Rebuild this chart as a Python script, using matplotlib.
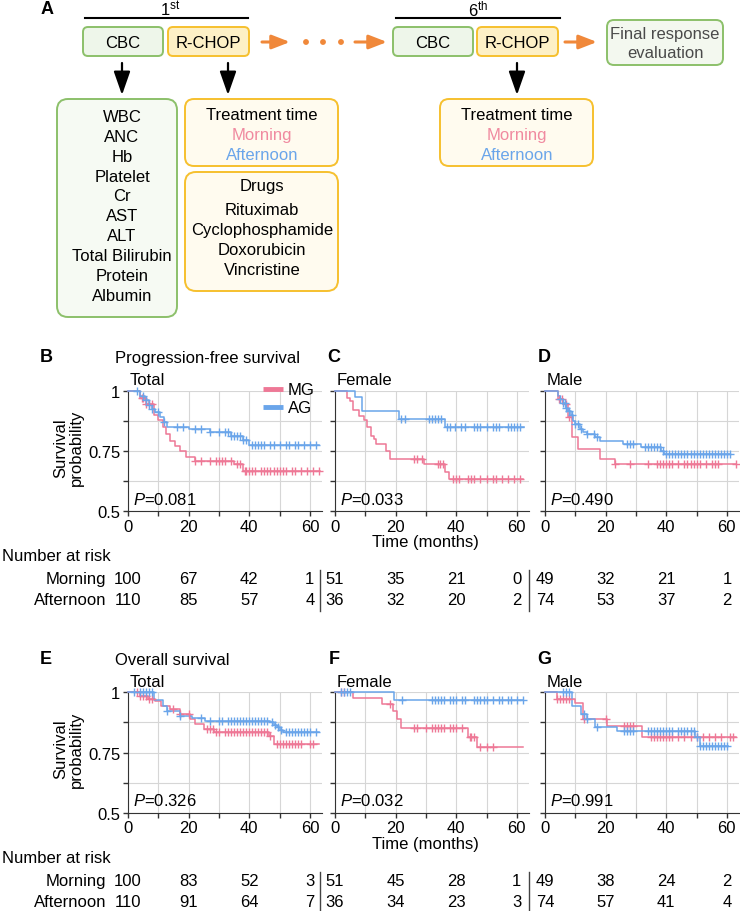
import numpy as np
import matplotlib
matplotlib.use('Agg')
import matplotlib.pyplot as plt
from matplotlib.patches import FancyBboxPatch, Circle
from matplotlib.transforms import blended_transform_factory

plt.rcParams['font.family'] = ['Liberation Sans', 'DejaVu Sans']
plt.rcParams['mathtext.fontset'] = 'custom'
plt.rcParams['mathtext.rm'] = 'Liberation Sans'
plt.rcParams['mathtext.it'] = 'Liberation Sans:italic'

PINK = '#ee7896'
BLUE = '#6aa5ea'
ORANGE = '#f0883a'
GREEN_EC = '#8cc06a'
YELLOW_EC = '#f6c02e'

# ---------------- Kaplan-Meier data (time, survival, censor times) ----------------
# PFS, total
pfs_tot_mg_t = [0, 4, 6, 8.5, 10, 11.5, 12.5, 14, 15.5, 17, 19, 22, 35, 38, 63.5]
pfs_tot_mg_s = [1, 0.97, 0.945, 0.90, 0.88, 0.85, 0.82, 0.79, 0.77, 0.75, 0.725, 0.71, 0.695, 0.665, 0.665]
pfs_tot_mg_c = [4.5, 5, 6, 7, 8, 22, 24, 27, 29, 30, 31, 32, 34, 36, 37, 38.5, 39, 40, 41, 42, 44, 45,
                46, 47, 48, 49, 50, 51, 52, 54, 55, 57, 59, 61, 63]
pfs_tot_ag_t = [0, 4, 5.5, 7, 8, 9, 10.5, 12, 13, 20, 27, 34, 38, 40, 63]
pfs_tot_ag_s = [1, 0.98, 0.96, 0.94, 0.925, 0.91, 0.89, 0.87, 0.85, 0.84, 0.828, 0.81, 0.795, 0.775, 0.775]
pfs_tot_ag_c = [3, 5, 6, 7, 8, 10, 12, 16, 18, 22, 24, 27, 30, 32, 33, 34, 35, 36, 37, 38, 39, 41, 42,
                43, 44, 45, 47, 48, 50, 52, 53, 55, 56, 58, 60, 62]
# PFS, female
pfs_fem_mg_t = [0, 3.8, 4.8, 5.9, 8, 9.6, 10.7, 11.8, 12.9, 13.4, 16.7, 18.3, 29.4, 36.4, 37.5, 62]
pfs_fem_mg_s = [1, 0.97, 0.958, 0.92, 0.896, 0.88, 0.85, 0.813, 0.80, 0.779, 0.751, 0.717, 0.696, 0.663,
                0.634, 0.634]
pfs_fem_mg_c = [26, 27, 28.6, 34, 34.8, 35.5, 39, 40, 41, 44, 45, 46, 48, 50, 52, 53, 55, 57, 59, 61]
pfs_fem_ag_t = [0, 6.5, 9, 21, 36.4, 62.5]
pfs_fem_ag_s = [1, 0.972, 0.917, 0.883, 0.849, 0.849]
pfs_fem_ag_c = [21.7, 23, 31, 32, 33, 34, 35, 37, 38, 39.5, 41.5, 43, 46, 47, 48, 50, 52, 53, 54, 57,
                58, 59, 60, 61]
# PFS, male
pfs_male_mg_t = [0, 4.3, 6, 7.7, 8.8, 11, 18, 23, 63]
pfs_male_mg_s = [1, 0.966, 0.944, 0.89, 0.806, 0.758, 0.717, 0.696, 0.696]
pfs_male_mg_c = [4.5, 5.5, 7, 8, 23, 28, 34, 37, 38, 39, 40, 41, 42, 44, 46, 47, 48, 49, 50, 51, 53,
                 55, 56, 57, 63]
pfs_male_ag_t = [0, 4.3, 5, 6, 7, 7.7, 8.5, 9.3, 10, 11.5, 12.5, 13.7, 16.5, 18, 25.7, 31.7, 38.3, 39.3, 61]
pfs_male_ag_s = [1, 0.98, 0.966, 0.95, 0.93, 0.917, 0.90, 0.876, 0.86, 0.841, 0.83, 0.82, 0.808, 0.793,
                 0.779, 0.766, 0.751, 0.737, 0.737]
pfs_male_ag_c = [5, 6, 6.5, 7, 8, 9, 10, 11, 12, 14, 16, 17, 27, 28, 29, 33, 34, 35, 36, 37, 38, 39, 40,
                 41, 42, 43, 44, 45, 46, 47, 48, 49, 50, 51, 52, 53, 54, 55, 56, 57, 58, 59, 60, 61]
# OS, total
os_tot_mg_t = [0, 4, 6.5, 9, 11, 14, 17, 20.5, 22, 25, 28.5, 46.5, 48, 63]
os_tot_mg_s = [1, 0.986, 0.972, 0.965, 0.944, 0.931, 0.91, 0.889, 0.868, 0.848, 0.834, 0.82, 0.787, 0.787]
os_tot_mg_c = [3, 4, 5, 6, 7, 8, 15, 17, 20, 26, 27, 28, 29, 30, 32, 33, 34, 35, 36, 37, 38, 39, 40, 41,
               42, 43, 44, 45, 46, 47, 49, 50, 51, 52, 53, 54, 55, 56, 57, 60, 61]
os_tot_ag_t = [0, 8.5, 11.5, 13, 17, 21, 25.5, 47, 48, 49, 50, 51, 63]
os_tot_ag_s = [1, 0.97, 0.945, 0.924, 0.903, 0.895, 0.882, 0.875, 0.865, 0.855, 0.845, 0.837, 0.837]
os_tot_ag_c = [2, 4, 5, 6, 7, 8, 13, 17, 24, 27, 30, 31, 33, 34, 35, 36, 37, 38, 39, 40, 41, 42, 43, 44,
               45, 46, 47.5, 48.5, 49.5, 50.5, 52, 53, 54, 55, 56, 57, 58, 59, 60, 62]
# OS, female
os_fem_mg_t = [0, 6, 15.5, 19, 20.6, 21.7, 44, 47, 62]
os_fem_mg_s = [1, 0.975, 0.951, 0.924, 0.889, 0.852, 0.813, 0.772, 0.772]
os_fem_mg_c = [2, 3, 18, 26, 27, 30, 32, 33, 34, 35, 36, 38, 39, 40, 42, 44.5, 45, 46, 48, 50, 52]
os_fem_ag_t = [0, 19.5, 62]
os_fem_ag_s = [1, 0.969, 0.969]
os_fem_ag_c = [2, 3, 4, 5, 22, 32, 33, 34, 35, 36, 38, 39, 40, 42, 43, 46, 47, 48, 49, 50, 52, 54, 55,
               57, 58, 60, 62]
# OS, male
os_male_mg_t = [0, 4, 10, 12.6, 20.3, 32, 63]
os_male_mg_s = [1, 0.972, 0.955, 0.889, 0.861, 0.813, 0.813]
os_male_mg_c = [4, 5, 6, 7, 8, 13, 20, 26, 27, 28, 29, 35, 36, 37, 38, 39, 40, 41, 42, 44, 46, 48, 50,
                52, 54, 56, 58, 61, 62]
os_male_ag_t = [0, 9, 12, 14, 16.5, 23.6, 49.5, 51, 60.5]
os_male_ag_s = [1, 0.944, 0.91, 0.889, 0.855, 0.841, 0.813, 0.779, 0.779]
os_male_ag_c = [6, 7, 8, 13, 14, 17, 26, 27, 28, 29, 34, 35, 36, 37, 38, 39, 40, 41, 42, 44, 45, 46, 47,
                48, 49, 50, 51, 52, 53, 54, 55, 56, 57, 58, 59, 60]

p_values = ['0.081', '0.033', '0.490', '0.326', '0.032', '0.991']
subgroups = ['Total', 'Female', 'Male']

# number at risk at 0, 20, 40, 60 months
risk_times = [0, 20, 40, 60]
pfs_risk_morning = [[100, 67, 42, 1], [51, 35, 21, 0], [49, 32, 21, 1]]
pfs_risk_afternoon = [[110, 85, 57, 4], [36, 32, 20, 2], [74, 53, 37, 2]]
os_risk_morning = [[100, 83, 52, 3], [51, 45, 28, 1], [49, 38, 24, 2]]
os_risk_afternoon = [[110, 91, 64, 7], [36, 34, 23, 3], [74, 57, 41, 4]]

cbc_items = ['WBC', 'ANC', 'Hb', 'Platelet', 'Cr', 'AST', 'ALT', 'Total Bilirubin', 'Protein', 'Albumin']
drug_items = ['Rituximab', 'Cyclophosphamide', 'Doxorubicin', 'Vincristine']

# ---------------- figure ----------------
fig = plt.figure(figsize=(7.4, 9.12), dpi=100)
W, H = 740, 912

# overlay axes in pixel coordinates for diagram and labels
ov = fig.add_axes([0, 0, 1, 1])
ov.set_xlim(0, W)
ov.set_ylim(H, 0)
ov.axis('off')
ov.patch.set_visible(False)
ov.set_zorder(10)

FS = 12


def box(x0, y0, x1, y1, ec, fc, r):
    ov.add_patch(FancyBboxPatch((x0, y0), x1 - x0, y1 - y0,
                                boxstyle=f'round,pad=0,rounding_size={r}',
                                ec=ec, fc=fc, lw=1.4))


def txt(x, y, s, **kw):
    kw.setdefault('fontsize', FS)
    kw.setdefault('ha', 'center')
    kw.setdefault('va', 'center')
    ov.text(x, y, s, **kw)


def arrow(x0, y0, x1, y1, color, lw, style, ms):
    ov.annotate('', xy=(x1, y1), xytext=(x0, y0),
                arrowprops=dict(arrowstyle=style, color=color, lw=lw,
                                mutation_scale=ms, shrinkA=0, shrinkB=0))


# ---------- panel A ----------
txt(47, 10, 'A', fontsize=13, fontweight='bold')
txt(170, 9, r'1$^{\rm st}$')
ov.plot([85, 248], [19, 19], color='black', lw=1.5)
txt(478, 9, r'6$^{\rm th}$')
ov.plot([396, 560], [19, 19], color='black', lw=1.5)

for x0 in (83, 393):
    box(x0, 28, x0 + 80, 57, GREEN_EC, '#eef6ea', 5)
    txt(x0 + 40, 43, 'CBC')
for x0 in (168, 477):
    box(x0, 28, x0 + 81, 57, YELLOW_EC, '#fdf0c6', 5)
    txt(x0 + 40.5, 43, 'R-CHOP')

box(607, 21, 723, 66, GREEN_EC, '#f3f8ef', 7)
txt(665, 35, 'Final response', color='#4a4a4a')
txt(665, 54, 'evaluation', color='#4a4a4a')

orange_style = '-|>,head_length=0.9,head_width=0.35'
arrow(262, 43, 290, 43, ORANGE, 2.2, orange_style, 12)
for xd in (306, 323, 341):
    ov.add_patch(Circle((xd, 43), 2.2, color=ORANGE))
arrow(355, 43, 387, 43, ORANGE, 2.2, orange_style, 12)
arrow(565, 43, 597, 43, ORANGE, 2.2, orange_style, 12)

black_style = '-|>,head_length=0.8,head_width=0.28'
arrow(122, 64, 122, 96, 'black', 1.6, black_style, 18)
arrow(228, 64, 228, 96, 'black', 1.6, black_style, 18)
arrow(517, 64, 517, 96, 'black', 1.6, black_style, 18)

box(57, 100, 177, 318, GREEN_EC, '#f6faf3', 11)
for i, item in enumerate(cbc_items):
    txt(122, 117 + 20 * i, item)

for cx, x0, x1 in ((262, 185, 338), (517, 440, 593)):
    box(x0, 100, x1, 167, YELLOW_EC, '#fffbef', 9)
    txt(cx, 115, 'Treatment time')
    txt(cx, 135.5, 'Morning', color='#f08aa0')
    txt(cx, 155.5, 'Afternoon', color=BLUE)

box(185, 173, 338, 292, YELLOW_EC, '#fffbef', 11)
txt(262, 186, 'Drugs')
for i, item in enumerate(drug_items):
    txt(262, 211 + 20 * i, item)

# ---------- KM panels ----------
curves = [
    [(pfs_tot_mg_t, pfs_tot_mg_s, pfs_tot_mg_c), (pfs_tot_ag_t, pfs_tot_ag_s, pfs_tot_ag_c)],
    [(pfs_fem_mg_t, pfs_fem_mg_s, pfs_fem_mg_c), (pfs_fem_ag_t, pfs_fem_ag_s, pfs_fem_ag_c)],
    [(pfs_male_mg_t, pfs_male_mg_s, pfs_male_mg_c), (pfs_male_ag_t, pfs_male_ag_s, pfs_male_ag_c)],
    [(os_tot_mg_t, os_tot_mg_s, os_tot_mg_c), (os_tot_ag_t, os_tot_ag_s, os_tot_ag_c)],
    [(os_fem_mg_t, os_fem_mg_s, os_fem_mg_c), (os_fem_ag_t, os_fem_ag_s, os_fem_ag_c)],
    [(os_male_mg_t, os_male_mg_s, os_male_mg_c), (os_male_ag_t, os_male_ag_s, os_male_ag_c)],
]

col_left = [128, 335, 545]
ax_w = 194
row_top = [391.7, 693.3]
ax_h = 120.5
row_shift = [0, 301.6]
letters = [['B', 'C', 'D'], ['E', 'F', 'G']]
titles = ['Progression-free survival', 'Overall survival']
risk_m = [pfs_risk_morning, os_risk_morning]
risk_a = [pfs_risk_afternoon, os_risk_afternoon]

for r in range(2):
    dy = row_shift[r]
    txt(46, 358 + dy, letters[r][0], fontsize=13, fontweight='bold')
    txt(115, 359 + dy, titles[r], ha='left')
    txt(69, 448 + dy, 'Survival\nprobability', rotation=90, linespacing=1.05)
    txt(425, 543 + dy, 'Time (months)')
    txt(2, 557 + dy, 'Number at risk', ha='left')
    txt(106, 580 + dy, 'Morning', ha='right')
    txt(106, 601 + dy, 'Afternoon', ha='right')
    for xs in (320, 529):
        ov.plot([xs, xs], [571 + dy, 612 + dy], color='#444444', lw=1)

    for c in range(3):
        k = r * 3 + c
        ax = fig.add_axes([col_left[c] / W, 1 - (row_top[r] + ax_h) / H, ax_w / W, ax_h / H])
        ax.set_xlim(0, 64)
        ax.set_ylim(0.5, 1.0)
        for (t, s, cens), color in zip(curves[k], (PINK, BLUE)):
            ax.step(t, s, where='post', color=color, lw=1.1, clip_on=False, zorder=3)
            idx = np.searchsorted(t, cens, side='right') - 1
            ax.plot(cens, np.array(s)[idx], '+', color=color, ms=6, mew=1.0,
                    clip_on=False, zorder=4)
        ax.set_xticks([0, 20, 40, 60])
        ax.set_xticks([10, 30, 50], minor=True)
        ax.set_yticks([0.5, 0.75, 1.0])
        ax.set_yticks([0.625, 0.875], minor=True)
        if c == 0:
            ax.set_yticklabels(['0.5', '0.75', '1'])
        else:
            ax.set_yticklabels([])
        ax.tick_params(which='both', direction='out', length=3.5, width=1,
                       labelsize=FS, pad=2, color='#333333')
        ax.grid(which='both', color='#d6d6d6', lw=0.8)
        ax.set_axisbelow(True)
        for sp in ('top', 'right'):
            ax.spines[sp].set_visible(False)
        for sp in ('left', 'bottom'):
            ax.spines[sp].set_color('#333333')
        ax.text(0.026, 0.105, r'$P$=' + p_values[k], transform=ax.transAxes,
                fontsize=FS, ha='left', va='center')

        lx = [46, 327, 537][c] if c else None
        if c:
            txt([0, 334, 544][c], 358 + dy, letters[r][c], fontsize=13, fontweight='bold')
        txt(col_left[c] + 2, 381 + dy, subgroups[c], ha='left')

        tr = blended_transform_factory(ax.transData, ov.transData)
        for tt, nm, na in zip(risk_times, risk_m[r][c], risk_a[r][c]):
            ax.text(tt, 580 + dy, str(nm), transform=tr, fontsize=FS, ha='center', va='center',
                    clip_on=False)
            ax.text(tt, 601 + dy, str(na), transform=tr, fontsize=FS, ha='center', va='center',
                    clip_on=False)

# legend
ov.plot([263, 283], [390, 390], color=PINK, lw=3.5, solid_capstyle='butt')
txt(288, 391, 'MG', ha='left')
ov.plot([263, 283], [408, 408], color=BLUE, lw=3.5, solid_capstyle='butt')
txt(288, 409, 'AG', ha='left')

fig.savefig('out.png', dpi=100)
